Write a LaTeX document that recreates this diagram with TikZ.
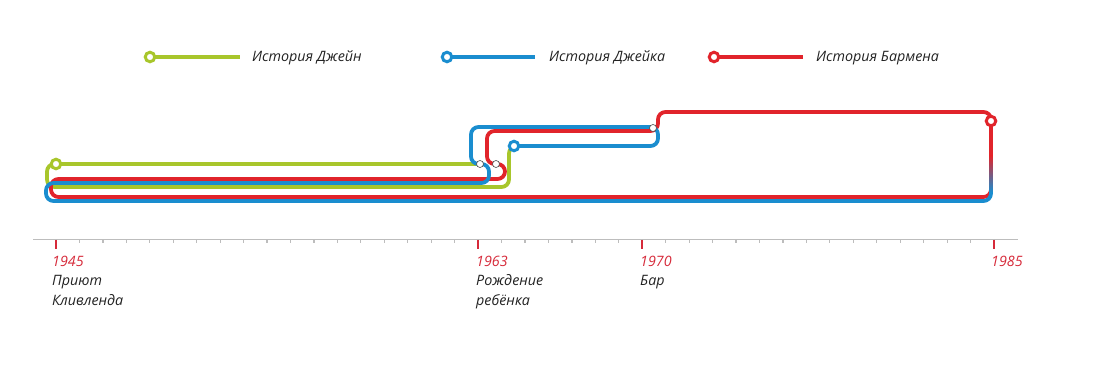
\documentclass[tikz,border=0pt]{standalone}
\usepackage{fontspec}
\setmainfont{Open Sans}
\definecolor{jgreen}{HTML}{A8C62B}
\definecolor{jblue}{HTML}{1A8DCF}
\definecolor{jred}{HTML}{E1242B}
\definecolor{yred}{HTML}{D62A3A}
\definecolor{axgray}{HTML}{BDBDBD}
\definecolor{txt}{HTML}{222222}
\pgfdeclarelayer{background}
\pgfsetlayers{background,main}
\begin{document}
\begin{tikzpicture}[x=1pt,y=-1pt,
  route/.style={line width=3.8pt, rounded corners=7.5pt},
  stn/.style={circle, line width=3pt, fill=white, minimum size=9.5pt, inner sep=0pt},
  xfer/.style={circle, draw=black!70, line width=0.6pt, fill=white, minimum size=7pt, inner sep=0pt},
  lbl/.style={font=\itshape\fontsize{14.3}{19}\selectfont, text=txt, anchor=base west, inner sep=0pt},
  yr/.style={lbl, text=yred},
  minor/.style={axgray, line width=1.2pt},
  major/.style={yred, line width=1.8pt},
]
\useasboundingbox (0,0) rectangle (1100,379);

% ---- legend ----
\node[stn, draw=jgreen] (lg) at (150,57) {};
\coordinate (lge) at (240,57);
\node[lbl] (tg) at (252,62) {История Джейн};
\node[stn, draw=jblue] (lb) at (447,57) {};
\coordinate (lbe) at (535,57);
\node[lbl] (tb) at (549,62) {История Джейка};
\node[stn, draw=jred] (lr) at (714,57) {};
\coordinate (lre) at (803,57);
\node[lbl] (tr) at (816,62) {История Бармена};

% ---- stations ----
\node[stn, draw=jgreen] (g0) at (56,164) {};
\node[stn, draw=jblue] (b0) at (514,146) {};
\node[stn, draw=jred] (r0) at (991,121) {};
\node[xfer] (w1) at (480,164) {};
\node[xfer] (w2) at (496,164) {};
\node[xfer] (w3) at (653,128) {};

\begin{pgfonlayer}{background}
  \draw[route, jgreen] (lg.center) -- (lge);
  \draw[route, jblue] (lb.center) -- (lbe);
  \draw[route, jred] (lr.center) -- (lre);
  % Jane
  \draw[route, jgreen] (g0.center) -- (w1.center);
  \draw[route, jgreen] (g0.center) -- (47,164) -- (47,187) -- (509,187) -- (509,146) -- (524,146);
  % Bartender
  \draw[route, jred] (r0.center) -- (991,112) -- (658,112) -- (658,131) -- (487,131)
      -- (487,164) -- (505,164) -- (505,179) -- (51,179) -- (51,197) -- (991,197) -- (r0.center);
  % Jake
  \draw[route, jblue] (b0.center) -- (658,146) -- (658,127) -- (471,127) -- (471,164)
      -- (489,164) -- (489,183) -- (46,183) -- (46,201) -- (991,201) -- (991,190);
  \shade[top color=jred, bottom color=jblue] (989.1,156) rectangle (992.9,192);
\end{pgfonlayer}

% ---- axis ----
\coordinate (ax0) at (33,239.5);
\coordinate (ax1) at (1018,239.5);
\draw[axgray, line width=1.4pt] (ax0) -- (ax1);
\foreach \k in {1,...,39}{
  \ifnum\k=18\relax\else\ifnum\k=25\relax\else
    \draw[minor] ({56+\k*23.45},240) -- ({56+\k*23.45},243.5);
  \fi\fi
}
\foreach \k in {0,18,25,40}{
  \draw[major] ({56+\k*23.45},240) -- ({56+\k*23.45},249);
}

% ---- labels ----
\node[yr] (y45) at (52,266.5) {1945};
\node[lbl] (l45a) at (52,285.5) {Приют};
\node[lbl] (l45b) at (52,305.5) {Кливленда};
\node[yr] (y63) at (476,266.5) {1963};
\node[lbl] (l63a) at (476,285.5) {Рождение};
\node[lbl] (l63b) at (476,305.5) {ребёнка};
\node[yr] (y70) at (640,266.5) {1970};
\node[lbl] (l70a) at (640,285.5) {Бар};
\node[yr] (y85) at (991,266.5) {1985};
\end{tikzpicture}
\end{document}
